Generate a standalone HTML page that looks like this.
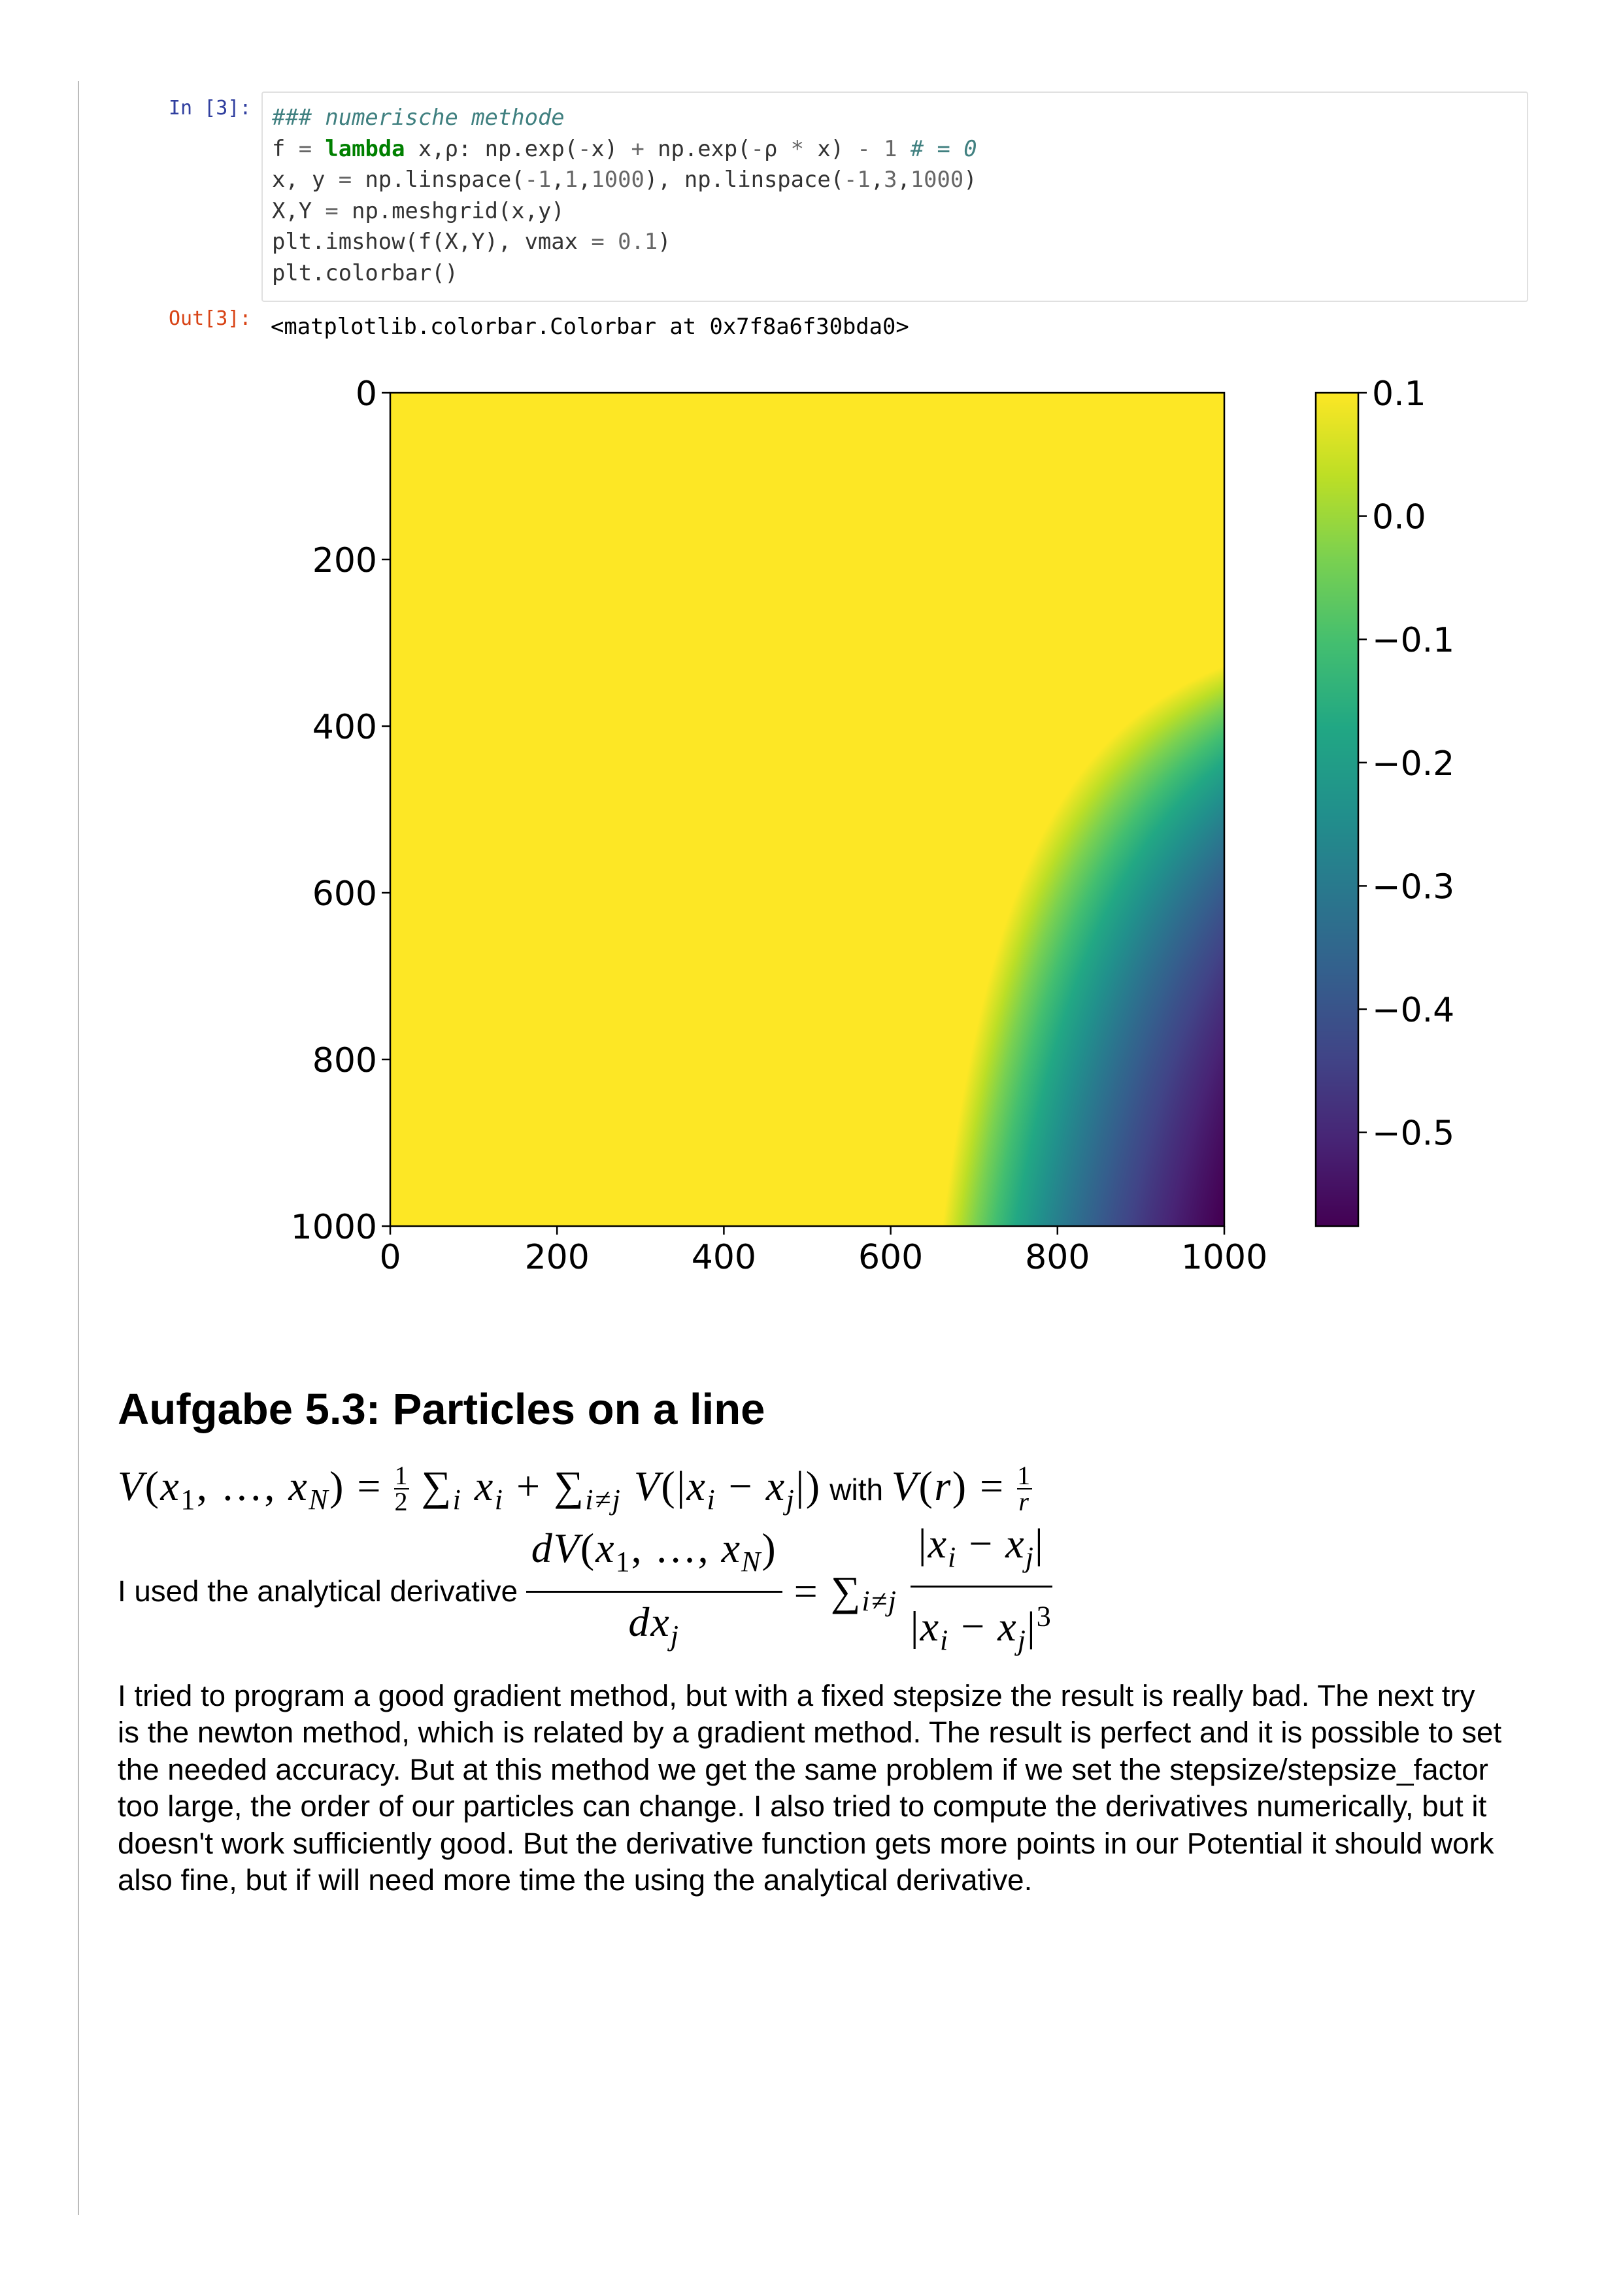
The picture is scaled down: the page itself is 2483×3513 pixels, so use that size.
<!DOCTYPE html>
<html><head><meta charset="utf-8">
<style>
body{margin:0;background:#fff;width:2483px;height:3513px;position:relative;overflow:hidden;font-family:"Liberation Sans",sans-serif}
.abs{position:absolute}
.mono{font-family:"DejaVu Sans Mono","Liberation Mono",monospace;font-size:33.8px;white-space:pre;color:#333}
.para{font-size:45.7px;line-height:56.4px;white-space:nowrap;color:#000}
.m{font-family:"Liberation Serif",serif;font-style:italic}
.r{font-family:"Liberation Serif",serif;font-style:normal}
sub,sup{font-size:44px}
</style></head><body>
<div class="abs" style="left:119px;top:124px;width:2px;height:3265px;background:#bbb"></div>

<div class="abs mono" style="left:258px;top:148px;color:#303F9F;font-size:30px">In [3]:</div>
<div class="abs" style="left:400px;top:140px;width:1938px;height:322px;border:2px solid #e0e0e0;border-radius:4px;background:#fff;box-sizing:border-box"></div>
<div class="abs mono" style="left:416px;top:156px;line-height:47.5px"><span style="color:#408080;font-style:italic">### numerische methode</span>
f <span style="color:#666">=</span> <b style="color:#008000">lambda</b> x,ρ: np.exp(<span style="color:#666">-</span>x) <span style="color:#666">+</span> np.exp(<span style="color:#666">-</span>ρ <span style="color:#666">*</span> x) <span style="color:#666">-</span> <span style="color:#666">1</span> <span style="color:#408080;font-style:italic"># = 0</span>
x, y <span style="color:#666">=</span> np.linspace(<span style="color:#666">-1</span>,<span style="color:#666">1</span>,<span style="color:#666">1000</span>), np.linspace(<span style="color:#666">-1</span>,<span style="color:#666">3</span>,<span style="color:#666">1000</span>)
X,Y <span style="color:#666">=</span> np.meshgrid(x,y)
plt.imshow(f(X,Y), vmax <span style="color:#666">=</span> <span style="color:#666">0.1</span>)
plt.colorbar()</div>
<div class="abs mono" style="left:258px;top:470px;color:#D84315;font-size:30px">Out[3]:</div>
<div class="abs mono" style="left:414px;top:480px;color:#000">&lt;matplotlib.colorbar.Colorbar at 0x7f8a6f30bda0&gt;</div>

<canvas id="hm" class="abs" width="1276" height="1275" style="left:597px;top:601px"></canvas>
<canvas id="cb" class="abs" width="65" height="1275" style="left:2013px;top:601px"></canvas>
<svg id="ax" class="abs" width="2483" height="2000" style="left:0;top:0"></svg>

<div class="abs" style="left:180px;top:2118px;font-size:67px;font-weight:bold;white-space:nowrap">Aufgabe 5.3: Particles on a line</div>

<div class="abs" style="left:180px;top:2236px;font-size:64px;white-space:nowrap;letter-spacing:2.5px">
<span class="m">V</span><span class="r">(</span><span class="m">x</span><sub class="r">1</sub><span class="r">, …, </span><span class="m">x<sub>N</sub></span><span class="r">) = </span><span style="display:inline-block;vertical-align:middle;text-align:center;font-size:40px;line-height:38px" class="r"><span style="display:block;border-bottom:2px solid #000">1</span>2</span><span class="r"> ∑</span><sub class="m">i</sub><span class="m"> x<sub>i</sub></span><span class="r"> + ∑</span><sub class="m">i≠j</sub><span class="m"> V</span><span class="r">(|</span><span class="m">x<sub>i</sub></span><span class="r"> − </span><span class="m">x<sub>j</sub></span><span class="r">|)</span><span style="font-size:46px;letter-spacing:0"> with </span><span class="m">V</span><span class="r">(</span><span class="m">r</span><span class="r">) = </span><span style="display:inline-block;vertical-align:middle;text-align:center;font-size:40px;line-height:38px" class="r"><span style="display:block;border-bottom:2px solid #000">1</span><i>r</i></span>
</div>

<div class="abs" style="left:180px;top:2340px;height:190px;white-space:nowrap;display:flex;align-items:center;font-size:64px;letter-spacing:2px">
<span style="font-size:45.7px;letter-spacing:0">I used the analytical derivative&nbsp;</span>
<span style="display:inline-block;text-align:center;line-height:88px"><span style="display:block;border-bottom:3px solid #000;padding:0 8px"><span class="m">dV</span><span class="r">(</span><span class="m">x</span><sub class="r">1</sub><span class="r">, …, </span><span class="m">x<sub>N</sub></span><span class="r">)</span></span><span class="m">dx<sub>j</sub></span></span>
<span class="r">&nbsp;= ∑</span><sub class="m" style="position:relative;top:14px">i≠j</sub>&nbsp;
<span style="display:inline-block;text-align:center;line-height:88px"><span style="display:block;border-bottom:3px solid #000;padding:0 8px"><span class="r">|</span><span class="m">x<sub>i</sub></span><span class="r"> − </span><span class="m">x<sub>j</sub></span><span class="r">|</span></span><span class="r">|</span><span class="m">x<sub>i</sub></span><span class="r"> − </span><span class="m">x<sub>j</sub></span><span class="r">|<sup>3</sup></span></span>
</div>

<div class="abs para" style="left:180px;top:2567px">I tried to program a good gradient method, but with a fixed stepsize the result is really bad. The next try<br>is the newton method, which is related by a gradient method. The result is perfect and it is possible to set<br>the needed accuracy. But at this method we get the same problem if we set the stepsize/stepsize_factor<br>too large, the order of our particles can change. I also tried to compute the derivatives numerically, but it<br>doesn't work sufficiently good. But the derivative function gets more points in our Potential it should work<br>also fine, but if will need more time the using the analytical derivative.</div>

<script>
// data
const xRange = [-1, 1];
const rhoRange = [-1, 3];
const gridSize = [1000];
const vmaxArr = [0.1];
const vminArr = [-0.576];
const xTicks = [0, 200, 400, 600, 800, 1000];
const yTicks = [0, 200, 400, 600, 800, 1000];
const cbTicks = [0.1, 0.0, -0.1, -0.2, -0.3, -0.4, -0.5];
const cbTickLabels = ["0.1", "0.0", "\u22120.1", "\u22120.2", "\u22120.3", "\u22120.4", "\u22120.5"];

const V = [[68,1,84],[72,36,117],[65,68,135],[53,95,141],[42,120,142],[33,145,140],[34,168,132],[68,191,112],[122,209,81],[189,223,38],[253,231,37]];
function viridis(t){t=Math.max(0,Math.min(1,t));const p=t*10,i=Math.min(9,Math.floor(p)),f=p-i;return V[i].map((c,k)=>c+(V[i+1][k]-c)*f);}
const PL=597,PT=601,PW=1276,PH=1275;
const N=gridSize[0];
const ix=v=>PL+v/N*PW, iy=v=>PT+v/N*PH;
const vmax=vmaxArr[0], vmin=vminArr[0];
function f(x,r){return Math.exp(-x)+Math.exp(-r*x)-1;}
(function(){const c=document.getElementById('hm').getContext('2d');const im=c.createImageData(PW,PH);
for(let py=0;py<PH;py++){const r=rhoRange[0]+(rhoRange[1]-rhoRange[0])*(py/(PH-1));
for(let px=0;px<PW;px++){const x=xRange[0]+(xRange[1]-xRange[0])*(px/(PW-1));
const col=viridis((f(x,r)-vmin)/(vmax-vmin));const o=(py*PW+px)*4;im.data[o]=col[0];im.data[o+1]=col[1];im.data[o+2]=col[2];im.data[o+3]=255;}}
c.putImageData(im,0,0);})();
const CBL=2013,CBW=65;
const cy=v=>PT+(vmax-v)/(vmax-vmin)*PH;
(function(){const c=document.getElementById('cb').getContext('2d');
for(let py=0;py<PH;py++){const v=vmax-(py/(PH-1))*(vmax-vmin);const col=viridis((v-vmin)/(vmax-vmin));c.fillStyle=`rgb(${col[0]|0},${col[1]|0},${col[2]|0})`;c.fillRect(0,py,CBW,1);}})();
const svg=document.getElementById('ax');const NS='http://www.w3.org/2000/svg';
function mk(t,a){const e=document.createElementNS(NS,t);for(const k in a)e.setAttribute(k,a[k]);svg.appendChild(e);return e;}
let fr=mk('rect',{x:PL,y:PT,width:PW,height:PH,fill:'none',stroke:'#000','stroke-width':2.5});


let cf=mk('rect',{x:CBL,y:PT,width:CBW,height:PH,fill:'none',stroke:'#000','stroke-width':2.5});


const TF='font-family:"DejaVu Sans",sans-serif;font-size:52px';
xTicks.forEach(v=>{const X=ix(v);
mk('line',{x1:X,y1:PT+PH,x2:X,y2:PT+PH+13,stroke:'#000','stroke-width':2.5});
const t=mk('text',{x:X,y:1941,'text-anchor':'middle',style:TF});t.textContent=v;

});
yTicks.forEach(v=>{const Y=iy(v);
mk('line',{x1:PL-13,y1:Y,x2:PL,y2:Y,stroke:'#000','stroke-width':2.5});
const t=mk('text',{x:PL-20,y:Y+19,'text-anchor':'end',style:TF});t.textContent=v;

});
cbTicks.forEach((v,i)=>{const Y=cy(v);
mk('line',{x1:CBL+CBW,y1:Y,x2:CBL+CBW+13,y2:Y,stroke:'#000','stroke-width':2.5});
const t=mk('text',{x:CBL+CBW+21,y:Y+19,style:TF});t.textContent=cbTickLabels[i];

});
</script>
</body></html>
